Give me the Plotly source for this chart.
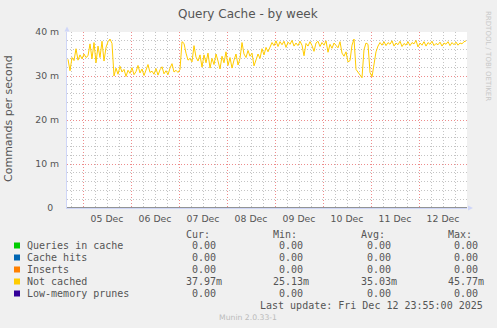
import pandas as pd
import plotly.graph_objects as go

# ---------------- data ----------------
range_start = "2025-12-04 16:00"
range_end = "2025-12-13 00:00"

# "Not cached" hourly averages (milli commands / second), starting 2025-12-04 16:30
not_cached = [
    33.8, 31.2, 34.2, 33.5, 36.2, 33.6, 34.8, 33.9, 35.0, 34.2,
    34.6, 37.3, 33.9, 37.6, 33.0, 36.8, 34.2, 37.9, 33.4, 36.5,
    37.8, 38.4, 37.4,
    30.0, 31.8, 30.4, 32.2, 30.9, 31.5, 29.9, 31.3, 30.6, 31.9,
    30.3, 31.0, 32.4, 30.7, 31.6, 30.1, 31.3, 32.6, 30.8, 31.1,
    30.4, 31.7, 30.2, 31.4, 32.1, 30.5, 31.2, 30.3, 31.8, 32.8,
    30.9, 31.3, 30.8, 31.5,
    37.8, 37.4, 35.2, 33.6, 34.0, 33.2, 36.9, 34.3, 33.4, 34.8,
    32.0, 34.8, 33.0, 35.2, 31.8, 34.0, 32.6, 35.0, 33.4, 31.6,
    34.5, 33.0, 35.5, 32.4, 34.2, 31.8, 33.6, 35.0, 32.5, 34.0,
    37.6, 35.0, 34.2, 35.8, 34.5, 35.2, 32.3, 33.5, 35.0, 34.0,
    36.2, 34.8, 36.5, 35.5,
    36.6, 37.6, 36.9, 38.0, 36.7, 37.8, 37.1, 37.9, 36.5, 37.7,
    37.2, 38.1, 36.8, 37.5, 36.9, 37.9, 37.0, 34.6, 37.4, 36.8,
    37.8, 36.9, 35.6, 37.5, 37.9, 36.7, 37.6, 37.0, 38.0, 35.4,
    37.2, 36.3, 37.5,
    37.0, 36.4, 37.8, 35.2, 34.5, 35.5, 33.2, 33.5, 37.0, 38.4,
    31.5, 30.8, 30.2, 29.6, 36.0, 37.5, 37.2, 30.8, 29.8, 32.5,
    35.5, 36.8, 37.6,
    37.0, 37.8, 36.9, 37.6, 37.2, 38.0, 36.8, 37.5, 37.1, 37.9,
    36.7, 37.4, 37.0, 37.8, 36.9, 37.6, 37.3, 38.1, 36.6, 37.5,
    37.0, 37.8, 36.8, 37.6, 37.2, 37.9, 36.9, 37.4, 37.1, 37.7,
    36.8, 37.5, 37.2, 37.8, 36.9, 37.6, 37.1, 37.7, 37.0, 37.5,
    37.3, 37.8, 37.97,
]
times = [pd.Timestamp(range_start) + pd.Timedelta(minutes=30) + pd.Timedelta(hours=i)
         for i in range(len(not_cached))]

zero_times = [range_start, range_end]
zero_values = [0.0, 0.0]

series_names = ["Queries in cache", "Cache hits", "Inserts", "Not cached", "Low-memory prunes"]
series_colors = ["#00CC00", "#0066B3", "#FF8000", "#FFCC00", "#330099"]
cur_vals = ["0.00", "0.00", "0.00", "37.97m", "0.00"]
min_vals = ["0.00", "0.00", "0.00", "25.13m", "0.00"]
avg_vals = ["0.00", "0.00", "0.00", "35.03m", "0.00"]
max_vals = ["0.00", "0.00", "0.00", "45.77m", "0.00"]

y_tickvals = [0, 10, 20, 30, 40]
y_ticktext = ["0\u00a0\u00a0", "10 m", "20 m", "30 m", "40 m"]

# ---------------- layout helpers ----------------
W, H = 497, 328
L, R, T, B = 67, 30, 32, 120
PW, PH = W - L - R, H - T - B


def px(x):
    return (x - L) / PW


def py(y):
    return (H - B - y) / PH


FONT = "#555555"
MAJOR = "#EE8C8C"
MINOR = "#C4C4C4"
GDASH = "1px,2px"

fig = go.Figure()
for name, color in zip(series_names, series_colors):
    if name == "Not cached":
        fig.add_trace(go.Scatter(x=times, y=not_cached, mode="lines",
                                 line=dict(color=color, width=1), name=name))
    else:
        fig.add_trace(go.Scatter(x=zero_times, y=zero_values, mode="lines",
                                 line=dict(color=color, width=1), name=name,
                                 opacity=0.45))

fig.update_layout(
    width=W, height=H,
    margin=dict(l=L, r=R, t=T, b=B),
    paper_bgcolor="#F0F0F0", plot_bgcolor="#FFFFFF",
    showlegend=False,
    font=dict(family="DejaVu Sans", color=FONT, size=9.3),
)

fig.update_xaxes(
    type="date", range=[range_start, range_end],
    tick0="2025-12-05", dtick=86400000, tickformat="%d %b",
    ticklabelmode="period",
    ticks="outside", ticklen=2, tickcolor="rgba(0,0,0,0)",
    showgrid=True, gridcolor=MAJOR, griddash=GDASH, gridwidth=1,
    minor=dict(tick0="2025-12-05", dtick=21600000, showgrid=True,
               gridcolor=MINOR, griddash=GDASH, gridwidth=1),
    showline=True, linecolor="#CFD6F8", linewidth=1,
    zeroline=False, tickfont=dict(size=9.3, color=FONT),
)
fig.update_yaxes(
    range=[0, 40], tickvals=y_tickvals, ticktext=y_ticktext,
    ticks="outside", ticklen=5, tickcolor="rgba(0,0,0,0)",
    showgrid=True, gridcolor=MAJOR, griddash=GDASH, gridwidth=1,
    minor=dict(dtick=2, showgrid=True, gridcolor=MINOR, griddash=GDASH, gridwidth=1),
    showline=True, linecolor="#CFD6F8", linewidth=1,
    zeroline=False, tickfont=dict(size=9.3, color=FONT),
)

ann = []


def text(x, y, s, size, color=FONT, family="DejaVu Sans", xanchor="left", angle=0):
    ann.append(dict(x=px(x), y=py(y), xref="paper", yref="paper", text=s,
                    showarrow=False, xanchor=xanchor, yanchor="middle",
                    textangle=angle, borderpad=0, borderwidth=0,
                    font=dict(size=size, color=color, family=family)))


text(248.3, 14, "Query Cache - by week", 12, xanchor="center")
text(9, 119, "Commands per second", 11, xanchor="center", angle=-90)
text(488, 56, "RRDTOOL / TOBI OETIKER", 7, color="#C8C8C8", xanchor="center", angle=90)

MONO = "DejaVu Sans Mono"
col_x = [185.7, 273.3, 361.0, 448.3]
headers = ["Cur:", "Min:", "Avg:", "Max:"]
for cx, hd in zip(col_x, headers):
    text(cx, 234, hd, 10, family=MONO)

shapes = []
row_y0 = 245.5
for i, name in enumerate(series_names):
    yy = row_y0 + 12 * i
    shapes.append(dict(type="rect", xref="paper", yref="paper",
                       x0=px(14), x1=px(20), y0=py(yy + 3), y1=py(yy - 3),
                       fillcolor=series_colors[i], line=dict(width=0)))
    text(26.7, yy, name, 10, family=MONO)
    for cx, vals in zip(col_x, [cur_vals, min_vals, avg_vals, max_vals]):
        v = vals[i]
        s = v if v.endswith("m") else "\u00a0" + v
        text(cx, yy, s, 10, family=MONO)

text(482.7, 305.7, "Last update: Fri Dec 12 23:55:00 2025", 10, family=MONO, xanchor="right")
text(247.5, 317, "Munin 2.0.33-1", 7.7, color="#BBBBBB", xanchor="center")

# axis arrows
shapes.append(dict(type="path", xref="paper", yref="paper",
                   path=f"M {px(64.5)} {py(31.5)} L {px(69.5)} {py(31.5)} L {px(67)} {py(26.5)} Z",
                   fillcolor="#CFD6F8", line=dict(width=0)))
shapes.append(dict(type="path", xref="paper", yref="paper",
                   path=f"M {px(468)} {py(205.5)} L {px(468)} {py(210.5)} L {px(473)} {py(208)} Z",
                   fillcolor="#CFD6F8", line=dict(width=0)))

fig.update_layout(annotations=ann, shapes=shapes)
fig.write_html("out.html")
